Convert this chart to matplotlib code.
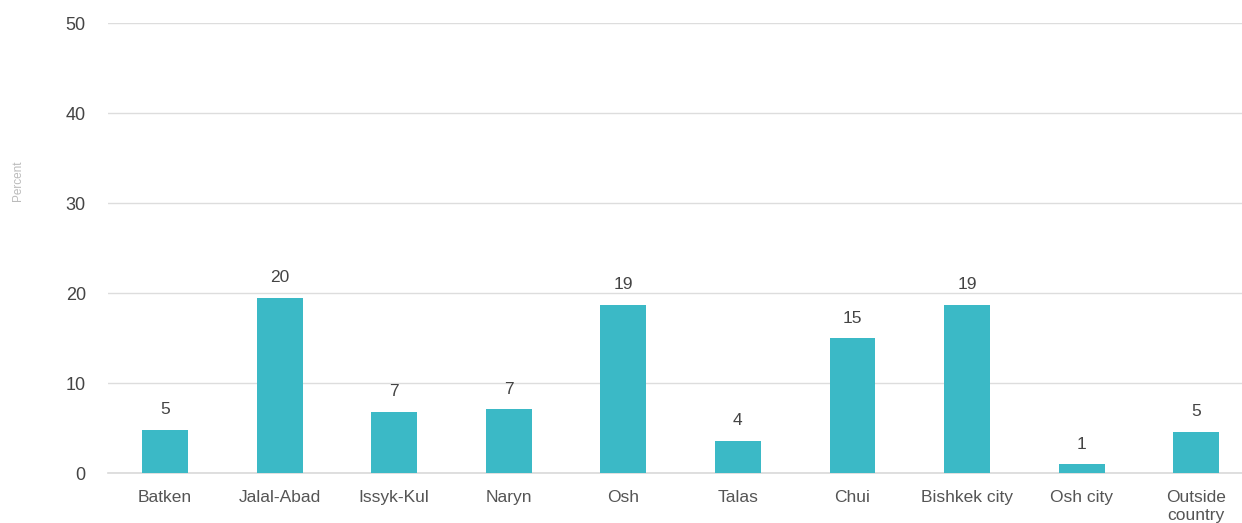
import matplotlib.pyplot as plt

regions = ['Batken', 'Jalal-Abad', 'Issyk-Kul', 'Naryn', 'Osh', 'Talas',
           'Chui', 'Bishkek city', 'Osh city', 'Outside\ncountry']
percent = [4.8, 19.5, 6.8, 7.1, 18.7, 3.6, 15.0, 18.7, 1.0, 4.6]
labels = ['5', '20', '7', '7', '19', '4', '15', '19', '1', '5']

plt.rcParams['font.family'] = ['Liberation Sans', 'DejaVu Sans']

fig = plt.figure(figsize=(12.42, 5.23), dpi=100)
ax = fig.add_axes([0.087, 0.0956, 0.913, 0.8604])

x = range(len(regions))
ax.bar(x, percent, width=0.4, color='#3bb9c6', zorder=2)

# value labels above bars
for i, (v, lab) in enumerate(zip(percent, labels)):
    ax.annotate(lab, (i, v), xytext=(0, 9), textcoords='offset points',
                ha='center', va='bottom', fontsize=12.5, color='#444444')

ax.set_ylim(0, 50)
ax.set_xlim(-0.498, 9.40)
ax.set_yticks(range(0, 51, 10))
ax.set_xticks(list(x))
ax.set_xticklabels(regions, fontsize=12.5, color='#555555', linespacing=1.3)
ax.tick_params(axis='y', labelsize=13, labelcolor='#444444', length=0, pad=16)
ax.tick_params(axis='x', length=0, pad=12)
ax.grid(axis='y', color='#dddddd', linewidth=1, zorder=0)
ax.axhline(0, color='#d9d9d9', linewidth=1.2, zorder=1, clip_on=False)
for s in ax.spines.values():
    s.set_visible(False)

ax.set_ylabel('Percent', fontsize=8.5, color='#bbbbbb')
ax.yaxis.set_label_coords(-0.074, 0.65)

fig.savefig('out.png', dpi=100)
